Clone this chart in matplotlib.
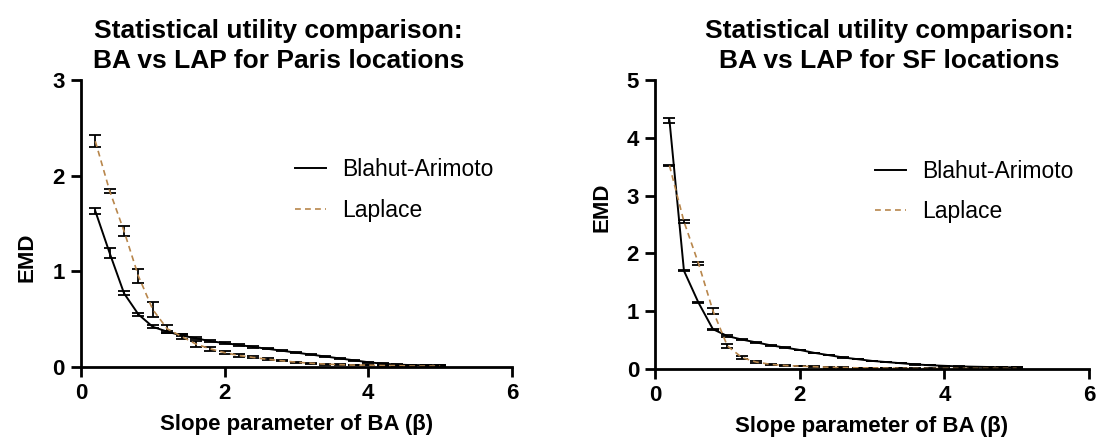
import matplotlib
matplotlib.use("Agg")
import matplotlib.pyplot as plt

plt.rcParams["font.family"] = ["Liberation Sans", "DejaVu Sans"]

# slope parameter beta (shared by both panels)
beta = [0.2, 0.4, 0.6, 0.8, 1.0, 1.2, 1.4, 1.6, 1.8, 2.0, 2.2, 2.4, 2.6,
        2.8, 3.0, 3.2, 3.4, 3.6, 3.8, 4.0, 4.2, 4.4, 4.6, 4.8, 5.0]

# Paris
paris_ba = [1.63, 1.19, 0.77, 0.55, 0.42, 0.37, 0.33, 0.30, 0.27, 0.25, 0.23,
            0.21, 0.19, 0.17, 0.15, 0.13, 0.11, 0.09, 0.07, 0.05, 0.035,
            0.025, 0.02, 0.02, 0.02]
paris_ba_err = [0.03, 0.05, 0.02, 0.015, 0.015, 0.01, 0.01, 0.01, 0.01, 0.01,
                0.008, 0.008, 0.006, 0.006, 0.005, 0.005, 0.005, 0.005, 0.005,
                0.005, 0.004, 0.004, 0.004, 0.004, 0.004]
paris_lap = [2.36, 1.84, 1.42, 0.95, 0.60, 0.40, 0.32, 0.24, 0.19, 0.15, 0.12,
             0.10, 0.08, 0.065, 0.05, 0.04, 0.03, 0.025, 0.02, 0.02, 0.015,
             0.015, 0.01, 0.01, 0.01]
paris_lap_err = [0.06, 0.02, 0.05, 0.07, 0.08, 0.04, 0.03, 0.03, 0.02, 0.015,
                 0.015, 0.01, 0.01, 0.005, 0.005, 0.005, 0.005, 0.004, 0.004,
                 0.004, 0.004, 0.004, 0.004, 0.004, 0.004]

# San Francisco
sf_ba = [4.30, 1.70, 1.15, 0.69, 0.57, 0.51, 0.46, 0.41, 0.37, 0.33, 0.28,
         0.24, 0.20, 0.17, 0.14, 0.12, 0.10, 0.08, 0.065, 0.055, 0.045, 0.04,
         0.035, 0.03, 0.03]
sf_ba_err = [0.045, 0.01, 0.01, 0.01, 0.01, 0.01, 0.01, 0.008, 0.008, 0.006,
             0.005, 0.005, 0.004, 0.004, 0.004, 0.003, 0.003, 0.003, 0.003,
             0.003, 0.003, 0.003, 0.003, 0.003, 0.003]
sf_lap = [3.52, 2.55, 1.83, 1.01, 0.40, 0.20, 0.12, 0.08, 0.06, 0.05, 0.04,
          0.03, 0.025, 0.02, 0.02, 0.015, 0.015, 0.01, 0.01, 0.01, 0.01, 0.01,
          0.01, 0.01, 0.01]
sf_lap_err = [0.01, 0.02, 0.03, 0.05, 0.03, 0.02, 0.02, 0.01, 0.008, 0.006,
              0.005, 0.005, 0.004, 0.004, 0.004, 0.003, 0.003, 0.003, 0.003,
              0.003, 0.003, 0.003, 0.003, 0.003, 0.003]

LAP_COLOR = "#B8864B"

panels = [
    dict(title="Statistical utility comparison:\nBA vs LAP for Paris locations",
         ba=paris_ba, ba_err=paris_ba_err, lap=paris_lap, lap_err=paris_lap_err,
         ymax=3, rect=[0.0738, 0.1734, 0.3929, 0.6464], leg=(0.497, 0.617),
         title_x=0.459, ylab=(-0.10, 0.383)),
    dict(title="Statistical utility comparison:\nBA vs LAP for SF locations",
         ba=sf_ba, ba_err=sf_ba_err, lap=sf_lap, lap_err=sf_lap_err,
         ymax=5, rect=[0.5971, 0.1689, 0.3956, 0.6509], leg=(0.507, 0.613),
         title_x=0.54, ylab=(-0.097, 0.56)),
]

fig = plt.figure(figsize=(10.97, 4.44), dpi=100)
fig.patch.set_facecolor("white")

for p in panels:
    ax = fig.add_axes(p["rect"])
    ax.errorbar(beta, p["ba"], yerr=p["ba_err"], color="black", lw=1.4,
                ecolor="black", elinewidth=1.3, capsize=4, capthick=1.3,
                label="Blahut-Arimoto")
    ax.errorbar(beta, p["lap"], yerr=p["lap_err"], color=LAP_COLOR, lw=1.2,
                ls=(0, (3.5, 2.5)), ecolor="black", elinewidth=1.3,
                capsize=4, capthick=1.3, label="Laplace")

    ax.set_xlim(0, 6)
    ax.set_ylim(0, p["ymax"])
    ax.set_xticks([0, 2, 4, 6])
    ax.set_yticks(range(0, p["ymax"] + 1))
    ax.spines[["top", "right"]].set_visible(False)
    for s in ["left", "bottom"]:
        ax.spines[s].set_linewidth(2.0)
    ax.tick_params(width=2.0, length=7.5, labelsize=16, pad=4)
    for lab in ax.get_xticklabels() + ax.get_yticklabels():
        lab.set_fontweight("bold")

    ax.set_xlabel("Slope parameter of BA (β)", fontsize=16, fontweight="bold",
                  labelpad=7)
    ax.set_ylabel("EMD", fontsize=16, fontweight="bold")
    ax.yaxis.set_label_coords(*p["ylab"])
    ax.text(p["title_x"], 1.025, p["title"], transform=ax.transAxes,
            ha="center", va="bottom", fontsize=19, fontweight="bold",
            linespacing=1.3)

    handles, labels = ax.get_legend_handles_labels()
    handles = [h[0] for h in handles]
    ax.legend(handles, labels, loc="center left", bbox_to_anchor=p["leg"],
              frameon=False, fontsize=16.5, handlelength=1.35,
              handletextpad=0.7, labelspacing=0.75, borderpad=0,
              borderaxespad=0)

fig.savefig("out.png", dpi=100, facecolor="white")
